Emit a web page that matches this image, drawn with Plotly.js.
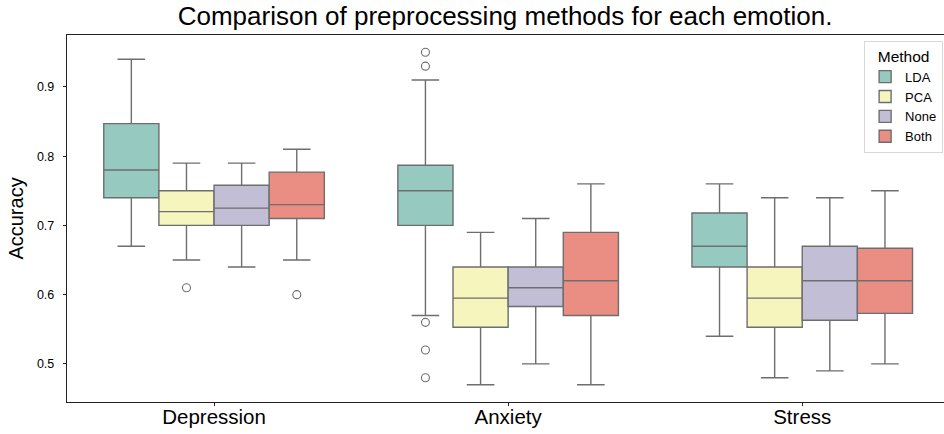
<!DOCTYPE html>
<html>
<head>
<meta charset="utf-8">
<script src="https://cdn.plot.ly/plotly-3.0.1.min.js"></script>
<style>html,body{margin:0;padding:0;background:#fff;}#chart{width:944px;height:434px;}</style>
</head>
<body>
<div id="chart"></div>
<script>
const categories = ['Depression', 'Anxiety', 'Stress'];
const methods = ['LDA', 'PCA', 'None', 'Both'];
const colors = ['#96cac1', '#f5f5bd', '#c1bed6', '#ea8d83'];

// per method: values for [Depression, Anxiety, Stress]
const lowerWhisker = [
  [0.67, 0.57, 0.54],
  [0.65, 0.47, 0.48],
  [0.64, 0.50, 0.49],
  [0.65, 0.47, 0.50]
];
const q1Values = [
  [0.74, 0.70, 0.64],
  [0.70, 0.553, 0.553],
  [0.70, 0.583, 0.563],
  [0.71, 0.57, 0.573]
];
const medianValues = [
  [0.78, 0.75, 0.67],
  [0.72, 0.595, 0.595],
  [0.725, 0.61, 0.62],
  [0.73, 0.62, 0.62]
];
const q3Values = [
  [0.847, 0.787, 0.718],
  [0.75, 0.64, 0.64],
  [0.758, 0.64, 0.67],
  [0.777, 0.69, 0.667]
];
const upperWhisker = [
  [0.94, 0.91, 0.76],
  [0.79, 0.69, 0.74],
  [0.79, 0.71, 0.74],
  [0.81, 0.76, 0.75]
];

// outliers
const outlierMethod = [1, 3, 0, 0, 0, 0, 0];
const outlierCategory = [0, 0, 1, 1, 1, 1, 1];
const outlierValue = [0.61, 0.60, 0.95, 0.93, 0.56, 0.52, 0.48];

const boxW = 0.1875;
const lineColor = '#6e6e6e';
const traces = [];
methods.forEach((m, i) => {
  const off = (i - 1.5) * boxW;
  traces.push({
    type: 'box',
    name: m,
    x: categories.map((c, j) => j + off),
    q1: q1Values[i],
    median: medianValues[i],
    q3: q3Values[i],
    lowerfence: lowerWhisker[i],
    upperfence: upperWhisker[i],
    width: boxW,
    whiskerwidth: 0.5,
    fillcolor: colors[i],
    line: {color: lineColor, width: 1.4},
    boxpoints: false,
    hoverinfo: 'y'
  });
});
traces.push({
  type: 'scatter',
  mode: 'markers',
  showlegend: false,
  x: outlierValue.map((v, k) => outlierCategory[k] + (outlierMethod[k] - 1.5) * boxW),
  y: outlierValue,
  marker: {symbol: 'circle-open', size: 8, color: lineColor, line: {width: 1.1, color: lineColor}}
});

const layout = {
  width: 944, height: 434,
  margin: {l: 67, r: 0, t: 35, b: 32},
  paper_bgcolor: '#fff', plot_bgcolor: '#fff',
  font: {family: 'Liberation Sans, Arial, sans-serif', color: '#000'},
  title: {text: 'Comparison of preprocessing methods for each emotion.', font: {size: 26, color: '#000'}, x: 0.535, xanchor: 'center', xref: 'container', y: 0.963, yanchor: 'middle'},
  boxmode: 'overlay',
  showlegend: true,
  xaxis: {
    range: [-0.5, 2.482],
    tickvals: [0, 1, 2], ticktext: categories,
    tickfont: {size: 20.5, color: '#000'},
    showline: true, linecolor: '#222', linewidth: 1.2, mirror: true,
    ticks: 'outside', ticklen: 3, tickcolor: '#222',
    ticklabelstandoff: -7,
    showgrid: false, zeroline: false
  },
  yaxis: {
    range: [0.445, 0.975],
    tickvals: [0.5, 0.6, 0.7, 0.8, 0.9],
    ticktext: ['0.5', '0.6', '0.7', '0.8', '0.9'],
    tickfont: {size: 12.5, color: '#000'},
    title: {text: 'Accuracy', font: {size: 20, color: '#000'}, standoff: 8},
    showline: true, linecolor: '#222', linewidth: 1.2,
    ticks: 'outside', ticklen: 3, tickcolor: '#222',
    ticklabelstandoff: 6,
    showgrid: false, zeroline: false
  },
  legend: {
    x: 0.999, xanchor: 'right', y: 0.985, yanchor: 'top',
    bgcolor: '#fff', bordercolor: '#d8d8d8', borderwidth: 1,
    title: {text: 'Method', font: {size: 15.5, color: '#000'}, side: 'top center'},
    font: {size: 13, color: '#000'},
    tracegroupgap: 0, itemwidth: 30
  }
};
Plotly.newPlot('chart', traces, layout, {displayModeBar: false, staticPlot: true});
</script>
</body>
</html>
